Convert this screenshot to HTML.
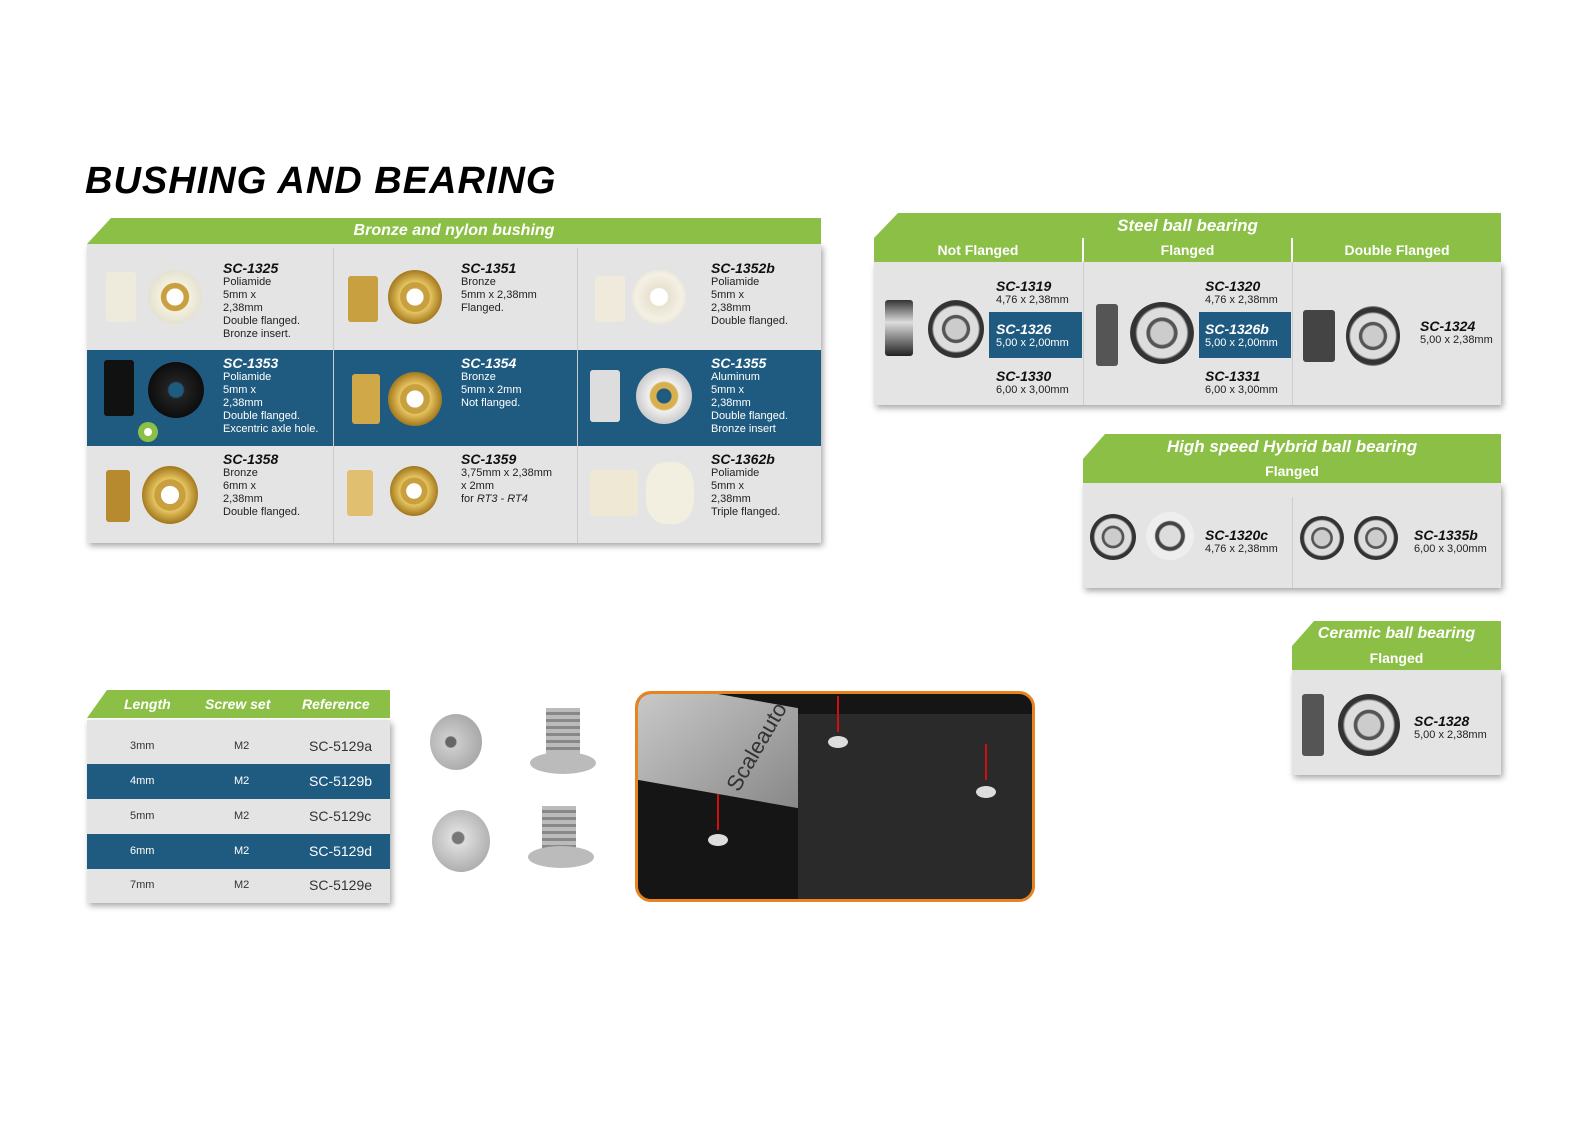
<!DOCTYPE html>
<html><head><meta charset="utf-8"><style>
html,body{margin:0;padding:0;width:1594px;height:1134px;overflow:hidden;background:#fff}
#root{position:relative;width:1594px;height:1134px;overflow:hidden;font-family:"Liberation Sans",sans-serif}
.a{position:absolute;white-space:nowrap}
.panel{position:absolute;background:#e4e4e4;box-shadow:2px 3px 6px rgba(0,0,0,.35)}
.hd{position:absolute;background:#8bbf46;color:#fff;font-weight:bold;font-style:italic;text-align:center;white-space:nowrap}
.sub{position:absolute;background:#8bbf46;color:#fff;font-weight:bold;font-size:14px;text-align:center;line-height:24px}
.t{position:absolute;font-size:11px;line-height:13px;color:#222;white-space:nowrap}
.t b{font-style:italic;font-size:14px;display:block;line-height:15px;color:#111}
.w,.w b{color:#fff}
.blue{position:absolute;background:#1f5b80}
.c{position:absolute;border-radius:50%}
.gold{background:radial-gradient(circle,#fff 0 22%,#c8a040 23% 38%,#e6c560 40%,#a57a20 70%,#d9b550 100%)}
.nyl{background:radial-gradient(circle,#fff 0 22%,#c8a040 23% 36%,#f4f0e0 38%,#d8d4c4 100%)}
.stl{background:radial-gradient(circle,#ccc 0 25%,#555 28% 34%,#ddd 36% 55%,#333 60% 70%,#aaa 75%,#444 100%)}
.side{position:absolute;border-radius:3px}
.r{position:absolute;font-size:11px;white-space:nowrap;color:#333}
.r.ref{font-size:14px}
.r.wh{color:#fff}
</style></head><body><div id="root">
<div class="a" style="left:85px;top:160px;font-size:38px;font-weight:bold;font-style:italic;letter-spacing:1px">BUSHING AND BEARING</div>

<!-- Bronze panel -->
<div class="panel" style="left:87px;top:244px;width:734px;height:299px"></div>
<div class="hd" style="left:87px;top:218px;width:734px;height:26px;line-height:26px;font-size:16px;clip-path:polygon(24px 0,100% 0,100% 100%,0 100%)">Bronze and nylon bushing</div>
<div class="blue" style="left:87px;top:350px;width:734px;height:96px"></div>
<div class="a" style="left:333px;top:248px;width:1px;height:295px;background:#ccc"></div>
<div class="a" style="left:577px;top:248px;width:1px;height:295px;background:#ccc"></div>

<div class="side" style="left:106px;top:272px;width:30px;height:50px;background:#eeeadc"></div><div class="c nyl" style="left:148px;top:270px;width:54px;height:54px"></div>
<div class="t" style="left:223px;top:261px"><b>SC-1325</b>Poliamide<br>5mm x<br>2,38mm<br>Double flanged.<br>Bronze insert.</div>
<div class="side" style="left:348px;top:276px;width:30px;height:46px;background:#c9a040"></div><div class="c gold" style="left:388px;top:270px;width:54px;height:54px"></div>
<div class="t" style="left:461px;top:261px"><b>SC-1351</b>Bronze<br>5mm x 2,38mm<br>Flanged.</div>
<div class="side" style="left:595px;top:276px;width:30px;height:46px;background:#efeadc"></div><div class="c" style="left:632px;top:270px;width:54px;height:54px;background:radial-gradient(circle,#fff 0 22%,#e8e2d0 25%,#f4f0e4 60%,#d8d2c0 100%)"></div>
<div class="t" style="left:711px;top:261px"><b>SC-1352b</b>Poliamide<br>5mm x<br>2,38mm<br>Double flanged.</div>

<div class="side" style="left:104px;top:360px;width:30px;height:56px;background:#111"></div><div class="c" style="left:148px;top:362px;width:56px;height:56px;background:radial-gradient(circle,#1f5b80 0 18%,#222 22%,#000 100%)"></div>
<div class="c" style="left:138px;top:422px;width:20px;height:20px;background:#8bbf46"></div><div class="c" style="left:144px;top:428px;width:8px;height:8px;background:#fff"></div>
<div class="t w" style="left:223px;top:356px"><b>SC-1353</b>Poliamide<br>5mm x<br>2,38mm<br>Double flanged.<br>Excentric axle hole.</div>
<div class="side" style="left:352px;top:374px;width:28px;height:50px;background:#d0a848"></div><div class="c gold" style="left:388px;top:372px;width:54px;height:54px"></div>
<div class="t w" style="left:461px;top:356px"><b>SC-1354</b>Bronze<br>5mm x 2mm<br>Not flanged.</div>
<div class="side" style="left:590px;top:370px;width:30px;height:52px;background:#ddd"></div><div class="c" style="left:636px;top:368px;width:56px;height:56px;background:radial-gradient(circle,#1f5b80 0 18%,#d8b050 20% 34%,#f0f0f0 38%,#aaa 100%)"></div>
<div class="t w" style="left:711px;top:356px"><b>SC-1355</b>Aluminum<br>5mm x<br>2,38mm<br>Double flanged.<br>Bronze insert</div>

<div class="side" style="left:106px;top:470px;width:24px;height:52px;background:#b88a30"></div><div class="c gold" style="left:142px;top:466px;width:56px;height:58px"></div>
<div class="t" style="left:223px;top:452px"><b>SC-1358</b>Bronze<br>6mm x<br>2,38mm<br>Double flanged.</div>
<div class="side" style="left:347px;top:470px;width:26px;height:46px;background:#e0c070"></div><div class="c gold" style="left:390px;top:466px;width:48px;height:50px"></div>
<div class="t" style="left:461px;top:452px"><b>SC-1359</b>3,75mm x 2,38mm<br>x 2mm<br>for <i>RT3 - RT4</i></div>
<div class="side" style="left:590px;top:470px;width:48px;height:46px;background:#efe8d4"></div><div class="c" style="left:646px;top:462px;width:48px;height:62px;border-radius:40%;background:#f2eee0"></div>
<div class="t" style="left:711px;top:452px"><b>SC-1362b</b>Poliamide<br>5mm x<br>2,38mm<br>Triple flanged.</div>

<!-- Steel panel -->
<div class="panel" style="left:874px;top:262px;width:627px;height:143px"></div>
<div class="hd" style="left:874px;top:213px;width:627px;height:25px;line-height:25px;font-size:17px;clip-path:polygon(24px 0,100% 0,100% 100%,0 100%)">Steel ball bearing</div>
<div class="sub" style="left:874px;top:238px;width:208px">Not Flanged</div>
<div class="sub" style="left:1084px;top:238px;width:207px">Flanged</div>
<div class="sub" style="left:1293px;top:238px;width:208px">Double Flanged</div>
<div class="a" style="left:1083px;top:262px;width:1px;height:143px;background:#ccc"></div>
<div class="a" style="left:1292px;top:262px;width:1px;height:143px;background:#ccc"></div>
<div class="side" style="left:885px;top:300px;width:28px;height:56px;background:linear-gradient(#333,#ddd 40%,#222)"></div><div class="c stl" style="left:928px;top:300px;width:56px;height:58px"></div>
<div class="blue" style="left:989px;top:312px;width:93px;height:46px"></div>
<div class="t" style="left:996px;top:279px"><b>SC-1319</b>4,76 x 2,38mm</div>
<div class="t w" style="left:996px;top:322px"><b>SC-1326</b>5,00 x 2,00mm</div>
<div class="t" style="left:996px;top:369px"><b>SC-1330</b>6,00 x 3,00mm</div>
<div class="side" style="left:1096px;top:304px;width:22px;height:62px;background:#555"></div><div class="c stl" style="left:1130px;top:302px;width:64px;height:62px"></div>
<div class="blue" style="left:1199px;top:312px;width:92px;height:46px"></div>
<div class="t" style="left:1205px;top:279px"><b>SC-1320</b>4,76 x 2,38mm</div>
<div class="t w" style="left:1205px;top:322px"><b>SC-1326b</b>5,00 x 2,00mm</div>
<div class="t" style="left:1205px;top:369px"><b>SC-1331</b>6,00 x 3,00mm</div>
<div class="side" style="left:1303px;top:310px;width:32px;height:52px;background:#444"></div><div class="c stl" style="left:1346px;top:306px;width:54px;height:60px"></div>
<div class="t" style="left:1420px;top:319px"><b>SC-1324</b>5,00 x 2,38mm</div>

<!-- Hybrid -->
<div class="panel" style="left:1083px;top:483px;width:418px;height:105px"></div>
<div class="hd" style="left:1083px;top:434px;width:418px;height:25px;line-height:25px;font-size:17px;clip-path:polygon(22px 0,100% 0,100% 100%,0 100%)">High speed Hybrid ball bearing</div>
<div class="sub" style="left:1083px;top:459px;width:418px">Flanged</div>
<div class="a" style="left:1292px;top:497px;width:1px;height:91px;background:#ccc"></div>
<div class="c stl" style="left:1090px;top:514px;width:46px;height:46px"></div><div class="c" style="left:1146px;top:512px;width:48px;height:48px;background:radial-gradient(circle,#ddd 0 30%,#444 34% 42%,#eee 46% 70%,#fff 74%,#ccc 100%)"></div>
<div class="t" style="left:1205px;top:528px"><b>SC-1320c</b>4,76 x 2,38mm</div>
<div class="c stl" style="left:1300px;top:516px;width:44px;height:44px"></div><div class="c stl" style="left:1354px;top:516px;width:44px;height:44px"></div>
<div class="t" style="left:1414px;top:528px"><b>SC-1335b</b>6,00 x 3,00mm</div>

<!-- Ceramic -->
<div class="panel" style="left:1292px;top:670px;width:209px;height:105px"></div>
<div class="hd" style="left:1292px;top:621px;width:209px;height:25px;line-height:25px;font-size:16px;clip-path:polygon(22px 0,100% 0,100% 100%,0 100%)">Ceramic ball bearing</div>
<div class="sub" style="left:1292px;top:646px;width:209px">Flanged</div>
<div class="side" style="left:1302px;top:694px;width:22px;height:62px;background:#555"></div><div class="c stl" style="left:1338px;top:694px;width:62px;height:62px"></div>
<div class="t" style="left:1414px;top:714px"><b>SC-1328</b>5,00 x 2,38mm</div>

<!-- Screw table -->
<div class="panel" style="left:87px;top:720px;width:303px;height:183px"></div>
<div class="hd" style="left:87px;top:690px;width:303px;height:28px;clip-path:polygon(20px 0,100% 0,100% 100%,0 100%)"></div>
<div class="a" style="left:124px;top:696px;color:#fff;font-weight:bold;font-style:italic;font-size:14px">Length</div>
<div class="a" style="left:205px;top:696px;color:#fff;font-weight:bold;font-style:italic;font-size:14px">Screw set</div>
<div class="a" style="left:302px;top:696px;color:#fff;font-weight:bold;font-style:italic;font-size:14px">Reference</div>
<div class="blue" style="left:87px;top:764px;width:303px;height:35px"></div>
<div class="blue" style="left:87px;top:834px;width:303px;height:35px"></div>
<span class="r" style="left:130px;top:740px">3mm</span><span class="r" style="left:234px;top:740px">M2</span><span class="r ref" style="left:309px;top:738px">SC-5129a</span>
<span class="r wh" style="left:130px;top:775px">4mm</span><span class="r wh" style="left:234px;top:775px">M2</span><span class="r ref wh" style="left:309px;top:773px">SC-5129b</span>
<span class="r" style="left:130px;top:810px">5mm</span><span class="r" style="left:234px;top:810px">M2</span><span class="r ref" style="left:309px;top:808px">SC-5129c</span>
<span class="r wh" style="left:130px;top:845px">6mm</span><span class="r wh" style="left:234px;top:845px">M2</span><span class="r ref wh" style="left:309px;top:843px">SC-5129d</span>
<span class="r" style="left:130px;top:879px">7mm</span><span class="r" style="left:234px;top:879px">M2</span><span class="r ref" style="left:309px;top:877px">SC-5129e</span>

<!-- screws -->
<div class="c" style="left:430px;top:714px;width:52px;height:56px;background:radial-gradient(circle at 40% 50%,#666 0 12%,#ccc 15%,#999 100%)"></div>
<div class="a" style="left:546px;top:708px;width:34px;height:50px;background:repeating-linear-gradient(#bbb 0 4px,#888 4px 7px)"></div><div class="c" style="left:530px;top:752px;width:66px;height:22px;background:#bbb"></div>
<div class="c" style="left:432px;top:810px;width:58px;height:62px;background:radial-gradient(circle at 45% 45%,#777 0 12%,#ddd 15%,#999 100%)"></div>
<div class="a" style="left:542px;top:806px;width:34px;height:50px;background:repeating-linear-gradient(#bbb 0 4px,#888 4px 7px)"></div><div class="c" style="left:528px;top:846px;width:66px;height:22px;background:#bbb"></div>

<!-- photo -->
<div class="a" style="left:635px;top:691px;width:394px;height:205px;border:3px solid #e88420;border-radius:16px;overflow:hidden;background:#151515">
<div class="a" style="left:0;top:0;width:160px;height:100px;background:linear-gradient(135deg,#ccc,#888);transform:skewY(10deg)"></div>
<div class="a" style="left:70px;top:40px;font-size:22px;color:#333;transform:rotate(-60deg)">Scaleauto</div>
<div class="a" style="left:160px;top:20px;width:234px;height:185px;background:#2a2a2a"></div>
<div class="c" style="left:190px;top:42px;width:20px;height:12px;background:#ddd"></div>
<div class="c" style="left:338px;top:92px;width:20px;height:12px;background:#ddd"></div>
<div class="c" style="left:70px;top:140px;width:20px;height:12px;background:#ddd"></div>
<div class="a" style="left:199px;top:2px;width:2px;height:36px;background:#d01010"></div>
<div class="a" style="left:347px;top:50px;width:2px;height:36px;background:#d01010"></div>
<div class="a" style="left:79px;top:100px;width:2px;height:36px;background:#d01010"></div>
</div>
</div></body></html>
